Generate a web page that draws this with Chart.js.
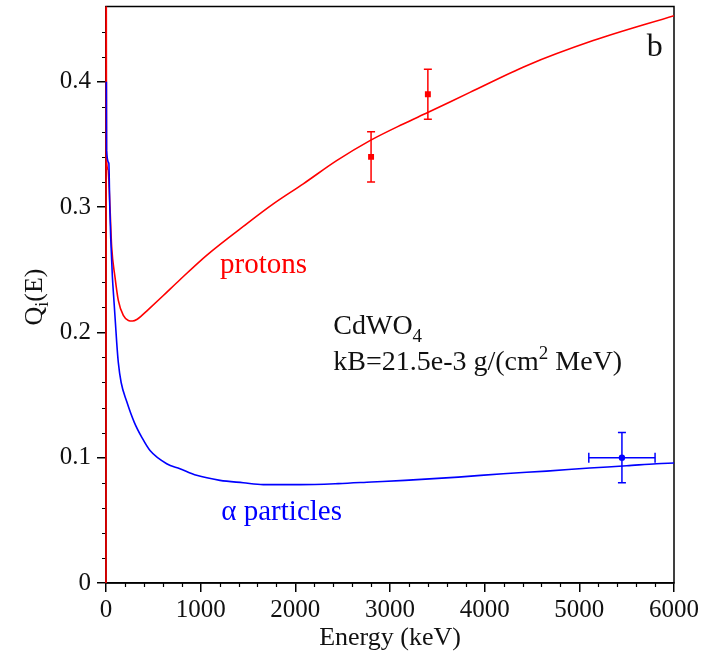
<!DOCTYPE html>
<html>
<head>
<meta charset="utf-8">
<script src="https://cdn.jsdelivr.net/npm/chart.js@4.4.1/dist/chart.umd.min.js"></script>
<style>
    html, body { margin: 0; padding: 0; background: #fff; }
    #contenedor { width: 703px; height: 655px; }
</style>
</head>
<body>
<div id="contenedor"><canvas id="graficoQuenching" width="703" height="655"></canvas></div>
<script>
// Curva calculada para protones (E en keV)
const energiaProtones = [0, 1, 5, 20, 42, 60, 95, 130, 183, 236, 280, 330, 380, 430, 600, 781, 1063, 1486, 1767, 2084, 2436, 2788, 3140, 3404, 3844, 4442, 5146, 6000];
const qProtones = [0, 0.6, 0.34, 0.33, 0.30, 0.268, 0.244, 0.2255, 0.2135, 0.2095, 0.209, 0.2105, 0.2135, 0.217, 0.229, 0.242, 0.2615, 0.2866, 0.3025, 0.3185, 0.337, 0.353, 0.3663, 0.3756, 0.3915, 0.4128, 0.4328, 0.4527];

// Curva calculada para partículas alfa
const energiaAlfa = [4, 6, 30, 40, 50, 67, 85, 100, 113, 130, 160, 218, 300, 380, 465, 641, 781, 957, 1204, 1450, 1661, 2049, 2453, 2805, 3157, 3721, 4196, 4654, 5110, 5500, 5815, 6000];
const qAlfa = [0.40, 0.345, 0.335, 0.30, 0.275, 0.245, 0.224, 0.207, 0.192, 0.176, 0.160, 0.145, 0.128, 0.116, 0.1057, 0.0952, 0.0912, 0.0859, 0.0819, 0.080, 0.0785, 0.0785, 0.0793, 0.0806, 0.0819, 0.0845, 0.0872, 0.0893, 0.0917, 0.0935, 0.0952, 0.0957];

// Medidas experimentales
const medidaProtonE = [2800, 3400];
const medidaProtonQ = [0.34, 0.39];
const errorProtonQ = [0.02, 0.02];

const medidaAlfaE = [5450];
const medidaAlfaQ = [0.10];
const errorAlfaE = [350];
const errorAlfaQ = [0.02];

// Marcas de los ejes
const ticksX = [0, 1000, 2000, 3000, 4000, 5000, 6000];
const ticksY = [0, 0.1, 0.2, 0.3, 0.4];

const ROJO = '#ff0000';
const AZUL = '#0000ff';
const FUENTE = 'Liberation Serif, Times New Roman, serif';

function aPuntos(xs, ys) {
    return xs.map((x, i) => ({ x: x, y: ys[i] }));
}

// Barras de error como pequeñas líneas con remates
function barrasError() {
    const series = [];
    medidaProtonE.forEach((e, i) => {
        series.push({
            data: [{ x: e, y: medidaProtonQ[i] - errorProtonQ[i] }, { x: e, y: medidaProtonQ[i] + errorProtonQ[i] }],
            borderColor: ROJO, borderWidth: 1.5, pointStyle: 'line', pointRadius: 4,
            pointBorderColor: ROJO, pointBorderWidth: 1.5, showLine: true
        });
    });
    medidaAlfaE.forEach((e, i) => {
        series.push({
            data: [{ x: e, y: medidaAlfaQ[i] - errorAlfaQ[i] }, { x: e, y: medidaAlfaQ[i] + errorAlfaQ[i] }],
            borderColor: AZUL, borderWidth: 1.5, pointStyle: 'line', pointRadius: 4,
            pointBorderColor: AZUL, pointBorderWidth: 1.5, showLine: true
        });
        series.push({
            data: [{ x: e - errorAlfaE[i], y: medidaAlfaQ[i] }, { x: e + errorAlfaE[i], y: medidaAlfaQ[i] }],
            borderColor: AZUL, borderWidth: 1.5, pointStyle: 'line', pointRadius: 5, pointRotation: 90,
            pointBorderColor: AZUL, pointBorderWidth: 1.5, showLine: true
        });
    });
    return series;
}

// Dibuja un texto compuesto por tramos (para subíndices y superíndices)
function escribirTramos(ctx, x, y, tramos, color) {
    ctx.fillStyle = color;
    ctx.textBaseline = 'alphabetic';
    ctx.textAlign = 'left';
    let cx = x;
    tramos.forEach(t => {
        ctx.font = t.tam + 'px ' + FUENTE;
        ctx.fillText(t.texto, cx, y + (t.dy || 0));
        cx += ctx.measureText(t.texto).width;
    });
    return cx - x;
}

function anchoTramos(ctx, tramos) {
    let w = 0;
    tramos.forEach(t => {
        ctx.font = t.tam + 'px ' + FUENTE;
        w += ctx.measureText(t.texto).width;
    });
    return w;
}

const pluginMarco = {
    id: 'marco',
    beforeDatasetsDraw(chart) {
        const { ctx, chartArea: a } = chart;
        ctx.save();
        ctx.strokeStyle = '#000';
        ctx.lineWidth = 1.5;
        ctx.strokeRect(a.left, a.top, a.right - a.left, a.bottom - a.top);

        // marcas menores
        ctx.lineWidth = 1.2;
        ctx.beginPath();
        for (let v = 200; v < 6000; v += 200) {
            if (v % 1000 === 0) continue;
            const px = Math.round(chart.scales.x.getPixelForValue(v)) + 0.5;
            ctx.moveTo(px, a.bottom);
            ctx.lineTo(px, a.bottom + 4);
        }
        for (let k = 1; k * 0.02 < 0.46; k++) {
            if (k % 5 === 0) continue;
            const py = Math.round(chart.scales.y.getPixelForValue(k * 0.02)) + 0.5;
            ctx.moveTo(a.left, py);
            ctx.lineTo(a.left - 4, py);
        }
        ctx.stroke();
        ctx.restore();
    }
};

const pluginTextos = {
    id: 'textos',
    afterDraw(chart) {
        const { ctx } = chart;
        const sx = chart.scales.x, sy = chart.scales.y;
        ctx.save();

        escribirTramos(ctx, sx.getPixelForValue(1204), sy.getPixelForValue(0.247), [{ texto: 'protons', tam: 29 }], ROJO);
        escribirTramos(ctx, sx.getPixelForValue(1218), sy.getPixelForValue(0.05), [{ texto: 'α particles', tam: 29 }], AZUL);

        const xt = sx.getPixelForValue(2401);
        escribirTramos(ctx, xt, sy.getPixelForValue(0.1988), [
            { texto: 'CdWO', tam: 28 },
            { texto: '4', tam: 19, dy: 8 }
        ], '#111');
        escribirTramos(ctx, xt, sy.getPixelForValue(0.1696), [
            { texto: 'kB=21.5e-3 g/(cm', tam: 28 },
            { texto: '2', tam: 19, dy: -11 },
            { texto: ' MeV)', tam: 28 }
        ], '#111');

        escribirTramos(ctx, sx.getPixelForValue(5711), sy.getPixelForValue(0.4208), [{ texto: 'b', tam: 32 }], '#111');

        // título del eje Y, girado
        const tituloY = [
            { texto: 'Q', tam: 26 },
            { texto: 'i', tam: 18, dy: 6 },
            { texto: '(E)', tam: 26 }
        ];
        ctx.translate(42, 297);
        ctx.rotate(-Math.PI / 2);
        const w = anchoTramos(ctx, tituloY);
        escribirTramos(ctx, -w / 2, 0, tituloY, '#111');
        ctx.restore();
    }
};

const ctx = document.getElementById('graficoQuenching').getContext('2d');

new Chart(ctx, {
    type: 'line',
    data: {
        datasets: [
            {
                label: 'alfa',
                data: aPuntos(energiaAlfa, qAlfa),
                borderColor: AZUL, borderWidth: 1.6, pointRadius: 0, cubicInterpolationMode: 'monotone',
                clip: { left: 2, top: 0, right: 0, bottom: 0 }
            },
            {
                label: 'protones',
                data: aPuntos(energiaProtones, qProtones),
                borderColor: ROJO, borderWidth: 1.6, pointRadius: 0, cubicInterpolationMode: 'monotone',
                clip: { left: 2, top: 0, right: 0, bottom: 0 }
            },
            {
                label: 'medidas protones',
                data: aPuntos(medidaProtonE, medidaProtonQ),
                showLine: false, pointStyle: 'rect', pointRadius: 4.2,
                pointBackgroundColor: ROJO, pointBorderColor: ROJO, pointBorderWidth: 0
            },
            {
                label: 'medida alfa',
                data: aPuntos(medidaAlfaE, medidaAlfaQ),
                showLine: false, pointStyle: 'circle', pointRadius: 3.2,
                pointBackgroundColor: AZUL, pointBorderColor: AZUL, pointBorderWidth: 0
            },
            ...barrasError()
        ]
    },
    options: {
        responsive: false,
        devicePixelRatio: 1,
        animation: false,
        layout: { padding: { top: 6, right: 29, left: 0, bottom: 0 } },
        plugins: {
            legend: { display: false },
            tooltip: { enabled: false }
        },
        scales: {
            x: {
                type: 'linear',
                min: 0,
                max: 6000,
                afterBuildTicks: function (escala) {
                    escala.ticks = ticksX.map(v => ({ value: v }));
                },
                afterFit: function (escala) {
                    escala.height = 72;
                    escala.paddingLeft = 0;
                    escala.paddingRight = 0;
                },
                grid: { drawOnChartArea: false, drawTicks: true, tickLength: 9, color: '#000', lineWidth: 1.5 },
                border: { display: true, color: '#000', width: 1.5 },
                ticks: {
                    color: '#111', padding: 3, maxRotation: 0, autoSkip: false,
                    font: { family: FUENTE, size: 25 },
                    callback: function (valor) { return String(valor); }
                },
                title: {
                    display: true, text: 'Energy (keV)', color: '#111',
                    font: { family: FUENTE, size: 26 },
                    padding: { top: 0, bottom: 1 }
                }
            },
            y: {
                type: 'linear',
                min: 0,
                max: 0.46,
                afterBuildTicks: function (escala) {
                    escala.ticks = ticksY.map(v => ({ value: v }));
                },
                afterFit: function (escala) {
                    escala.width = 106;
                    escala.paddingTop = 0;
                    escala.paddingBottom = 0;
                },
                grid: { drawOnChartArea: false, drawTicks: true, tickLength: 9, color: '#000', lineWidth: 1.5 },
                border: { display: true, color: '#000', width: 1.5 },
                ticks: {
                    color: '#111', padding: 6,
                    font: { family: FUENTE, size: 25 },
                    callback: function (valor) { return valor === 0 ? '0' : valor.toFixed(1); }
                }
            }
        }
    },
    plugins: [pluginMarco, pluginTextos]
});
</script>
</body>
</html>
